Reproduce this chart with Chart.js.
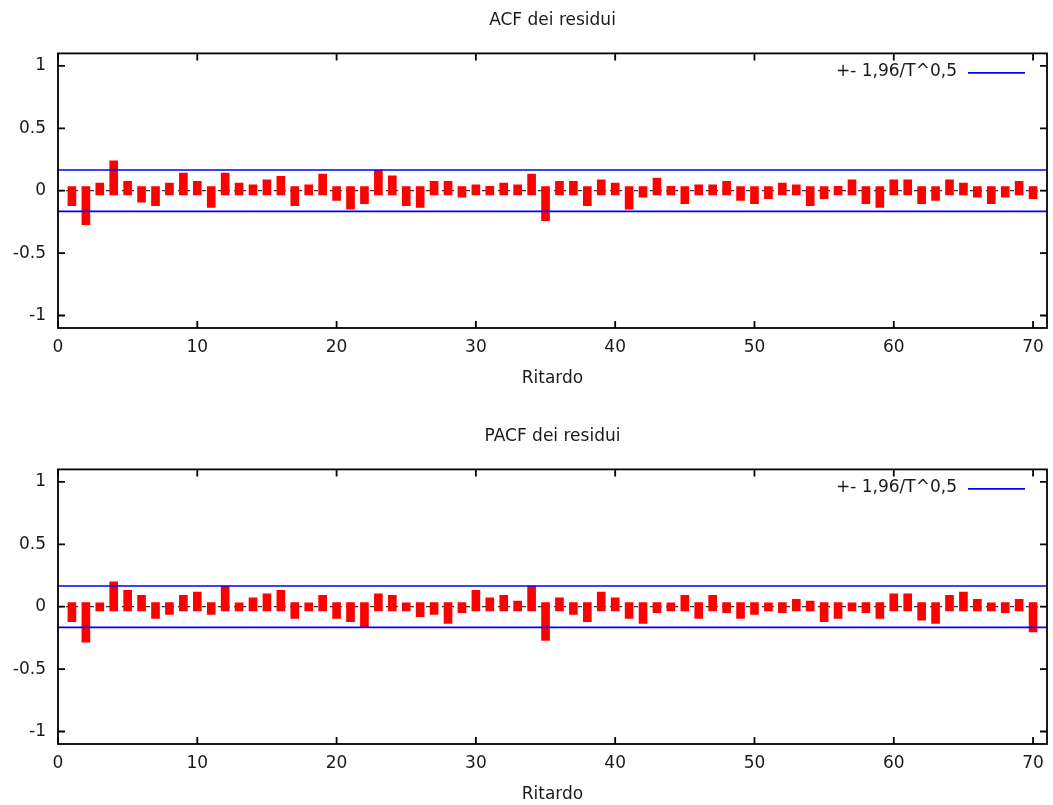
<!DOCTYPE html>
<html>
<head>
<meta charset="utf-8">
<script src="https://cdn.jsdelivr.net/npm/chart.js@4.4.0/dist/chart.umd.min.js"></script>
<style>
    body { margin: 0; background: #fff; width: 1053px; height: 805px; overflow: hidden; position: relative; }
    .panel { position: absolute; left: 0; width: 1053px; height: 400px; }
</style>
</head>
<body>
<div class="panel" style="top:0"><canvas id="acfChart" width="1053" height="400"></canvas></div>
<div class="panel" style="top:416px"><canvas id="pacfChart" width="1053" height="400"></canvas></div>
<script>
// lags and correlations
const lags = [1, 2, 3, 4, 5, 6, 7, 8, 9, 10, 11, 12, 13, 14, 15, 16, 17, 18, 19, 20,
    21, 22, 23, 24, 25, 26, 27, 28, 29, 30, 31, 32, 33, 34, 35, 36, 37, 38, 39, 40,
    41, 42, 43, 44, 45, 46, 47, 48, 49, 50, 51, 52, 53, 54, 55, 56, 57, 58, 59, 60,
    61, 62, 63, 64, 65, 66, 67, 68, 69, 70];

const acfValues = [-0.12, -0.272, 0.061, 0.24, 0.075, -0.091, -0.12, 0.061, 0.141, 0.075,
    -0.133, 0.141, 0.061, 0.048, 0.088, 0.115, -0.12, 0.048, 0.133, -0.077,
    -0.147, -0.104, 0.163, 0.12, -0.12, -0.133, 0.075, 0.075, -0.051, 0.048,
    0.035, 0.061, 0.048, 0.133, -0.24, 0.075, 0.075, -0.12, 0.088, 0.061,
    -0.147, -0.051, 0.101, 0.035, -0.104, 0.048, 0.048, 0.075, -0.077, -0.104,
    -0.064, 0.061, 0.048, -0.12, -0.064, 0.035, 0.088, -0.104, -0.133, 0.088,
    0.088, -0.104, -0.077, 0.088, 0.061, -0.051, -0.104, -0.051, 0.075, -0.064];

const pacfValues = [-0.12, -0.284, 0.032, 0.2, 0.131, 0.091, -0.094, -0.062, 0.091, 0.118,
    -0.062, 0.166, 0.032, 0.072, 0.104, 0.131, -0.094, 0.032, 0.091, -0.094,
    -0.12, -0.163, 0.104, 0.091, 0.032, -0.08, -0.062, -0.134, -0.048, 0.131,
    0.072, 0.091, 0.045, 0.166, -0.27, 0.072, -0.062, -0.12, 0.118, 0.072,
    -0.094, -0.134, -0.048, 0.032, 0.091, -0.094, 0.091, -0.048, -0.094, -0.062,
    0.032, -0.048, 0.059, 0.045, -0.12, -0.094, 0.032, -0.048, -0.094, 0.104,
    0.104, -0.107, -0.134, 0.091, 0.118, 0.059, 0.032, -0.048, 0.059, -0.203];

const xTicks = [0, 10, 20, 30, 40, 50, 60, 70];
const yTicks = [-1, -0.5, 0, 0.5, 1];
const band = 0.166;            // 1.96/sqrt(T)
const legendText = '+- 1,96/T^0,5';

Chart.defaults.font.family = "'DejaVu Sans', sans-serif";
Chart.defaults.font.size = 17;
Chart.defaults.color = '#1a1a1a';

// gnuplot style: full box, inward ticks on all four sides, key top right
const framePlugin = {
    id: 'frame',
    afterDraw(chart) {
        const { ctx, chartArea: a, scales: { x, y } } = chart;
        ctx.save();
        ctx.strokeStyle = '#000';
        ctx.lineWidth = 1.8;
        ctx.beginPath();
        x.ticks.forEach(t => {
            const px = x.getPixelForValue(t.value);
            ctx.moveTo(px, a.bottom); ctx.lineTo(px, a.bottom - 7);
            ctx.moveTo(px, a.top); ctx.lineTo(px, a.top + 7);
        });
        y.ticks.forEach(t => {
            const py = y.getPixelForValue(t.value);
            ctx.moveTo(a.left, py); ctx.lineTo(a.left + 7, py);
            ctx.moveTo(a.right, py); ctx.lineTo(a.right - 7, py);
        });
        ctx.stroke();
        ctx.strokeRect(a.left, a.top, a.right - a.left, a.bottom - a.top);

        // key
        const ky = a.top + 18.5;
        ctx.fillStyle = '#1a1a1a';
        ctx.font = "17px 'DejaVu Sans', sans-serif";
        ctx.textAlign = 'right';
        ctx.textBaseline = 'middle';
        ctx.fillText(legendText, a.right - 90, ky);
        ctx.strokeStyle = '#0000ff';
        ctx.lineWidth = 1.6;
        ctx.beginPath();
        ctx.moveTo(a.right - 79, ky + 1);
        ctx.lineTo(a.right - 22, ky + 1);
        ctx.stroke();
        ctx.restore();
    }
};

// bars poke a few pixels past zero, as in the original
const overlap = 0.033;

function makeCorrChart(canvasId, title, values) {
    const ctx = document.getElementById(canvasId).getContext('2d');
    return new Chart(ctx, {
        type: 'bar',
        data: {
            datasets: [{
                type: 'line',
                data: [{ x: 0, y: 0 }, { x: 71, y: 0 }],
                borderColor: '#000',
                borderWidth: 1,
                borderDash: [4, 4],
                pointRadius: 0,
                order: 3
            }, {
                type: 'bar',
                data: lags.map((l, i) => ({ x: l, y: [values[i] > 0 ? -overlap : overlap, values[i]] })),
                backgroundColor: '#ff0000',
                borderWidth: 0,
                barThickness: 8,
                order: 2
            }, {
                type: 'line',
                data: [{ x: 0, y: band }, { x: 71, y: band }],
                borderColor: '#0000ff',
                borderWidth: 1.6,
                pointRadius: 0,
                order: 1
            }, {
                type: 'line',
                data: [{ x: 0, y: -band }, { x: 71, y: -band }],
                borderColor: '#0000ff',
                borderWidth: 1.6,
                pointRadius: 0,
                order: 1
            }]
        },
        options: {
            responsive: false,
            animation: false,
            devicePixelRatio: 1,
            layout: { padding: { left: 0, right: 6, top: 0, bottom: 0 } },
            plugins: {
                legend: { display: false },
                tooltip: { enabled: false },
                title: {
                    display: true,
                    text: title,
                    fullSize: false,
                    font: { size: 17, weight: 'normal' },
                    color: '#1a1a1a',
                    padding: { top: 10, bottom: 23 }
                }
            },
            scales: {
                x: {
                    type: 'linear',
                    min: 0,
                    max: 71,
                    offset: false,
                    grid: { display: false, drawTicks: false },
                    border: { display: false },
                    afterBuildTicks: scale => { scale.ticks = xTicks.map(v => ({ value: v })); },
                    afterFit: scale => { scale.height = 72; },
                    ticks: { padding: 9, maxRotation: 0, autoSkip: false },
                    title: { display: true, text: 'Ritardo', padding: { top: 0, bottom: 11 } }
                },
                y: {
                    min: -1.1,
                    max: 1.1,
                    grid: { display: false, drawTicks: false },
                    border: { display: false },
                    afterBuildTicks: scale => { scale.ticks = yTicks.map(v => ({ value: v })); },
                    afterFit: scale => { scale.width = 58; },
                    ticks: { padding: 12, callback: v => String(v) }
                }
            }
        },
        plugins: [framePlugin]
    });
}

makeCorrChart('acfChart', 'ACF dei residui', acfValues);
makeCorrChart('pacfChart', 'PACF dei residui', pacfValues);
</script>
</body>
</html>
